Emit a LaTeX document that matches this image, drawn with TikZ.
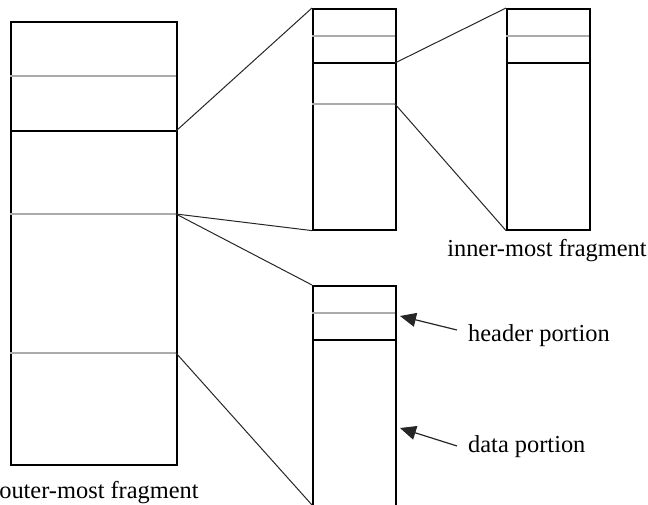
\documentclass[tikz,border=0pt]{standalone}
\usepackage{fontspec}
\setmainfont{Liberation Serif}
\usetikzlibrary{arrows.meta}
\begin{document}
\begin{tikzpicture}[x=1pt,y=-1pt,
  frag/.style={draw=black,line width=1.6pt,rectangle,inner sep=0pt,anchor=north west},
  hdr/.style={line width=1.6pt,draw=black},
  sep/.style={line width=1.3pt,draw=black!33},
  link/.style={line width=1pt,draw=black!85},
  pointer/.style={line width=1.2pt,draw=black!85,-{Triangle[length=16pt,width=14pt]}},
  lbl/.style={font=\fontsize{24.4}{26}\selectfont,inner sep=0pt}]
\path[use as bounding box] (0,0) rectangle (648,505);
\clip (0,0) rectangle (648,505);

% outer-most fragment
\node[frag,minimum width=166pt,minimum height=443pt] (outer) at (10,21) {};
\coordinate (oa) at (10,76);  \coordinate (ob) at (176,76);
\coordinate (oc) at (10,131); \coordinate (od) at (176,131);
\coordinate (oe) at (10,214); \coordinate (of) at (176,214);
\coordinate (og) at (10,353); \coordinate (oh) at (176,353);
\draw[sep] (oa) -- (ob);
\draw[hdr] (oc) -- (od);
\draw[sep] (oe) -- (of);
\draw[sep] (og) -- (oh);

% middle fragment
\node[frag,minimum width=83pt,minimum height=221pt] (mid) at (312,8) {};
\coordinate (ma) at (312,36);  \coordinate (mb) at (395,36);
\coordinate (mc) at (312,63);  \coordinate (md) at (395,63);
\coordinate (me) at (312,104); \coordinate (mf) at (395,104);
\draw[sep] (ma) -- (mb);
\draw[hdr] (mc) -- (md);
\draw[sep] (me) -- (mf);

% inner-most fragment
\node[frag,minimum width=83pt,minimum height=221pt] (inner) at (506,8) {};
\coordinate (ia) at (506,36); \coordinate (ib) at (589,36);
\coordinate (ic) at (506,63); \coordinate (id) at (589,63);
\draw[sep] (ia) -- (ib);
\draw[hdr] (ic) -- (id);

% lower fragment
\node[frag,minimum width=83pt,minimum height=240pt] (low) at (312,285) {};
\coordinate (la) at (312,313); \coordinate (lb) at (395,313);
\coordinate (lc) at (312,340); \coordinate (ld) at (395,340);
\coordinate (lbot) at (312,505);
\draw[sep] (la) -- (lb);
\draw[hdr] (lc) -- (ld);

% connectors
\draw[link] (od) -- (mid.north west);
\draw[link] (of) -- (mid.south west);
\draw[link] (of) -- (low.north west);
\draw[link] (oh) -- (lbot);
\draw[link] (md) -- (inner.north west);
\draw[link] (mf) -- (inner.south west);

% labels
\node[lbl,anchor=base] (innerlbl) at (547,256) {inner-most fragment};
\node[lbl,anchor=base] (outerlbl) at (99,498) {outer-most fragment};
\node[lbl,anchor=base west] (hdrlbl) at (468,341) {header portion};
\node[lbl,anchor=base west] (datalbl) at (468,452) {data portion};
\coordinate (ht) at (457,330); \coordinate (hh) at (400,316);
\coordinate (dt) at (457,446); \coordinate (dh) at (400,428);
\draw[pointer] (ht) -- (hh);
\draw[pointer] (dt) -- (dh);
\end{tikzpicture}
\end{document}
